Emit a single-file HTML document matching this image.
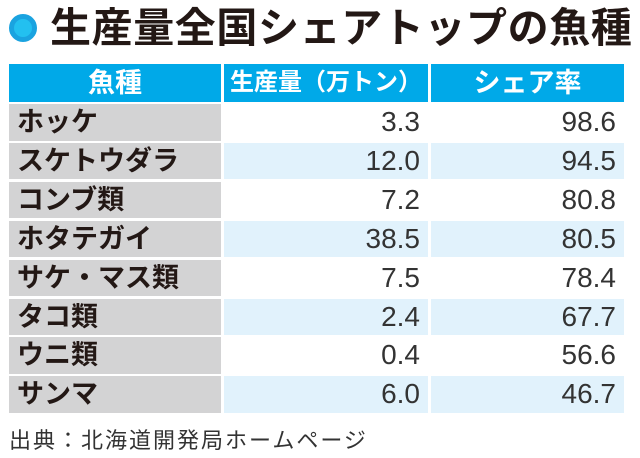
<!DOCTYPE html>
<html><head><meta charset="utf-8"><style>
body{margin:0;width:640px;height:458px;background:#fff;position:relative;overflow:hidden;font-family:"Liberation Sans","Noto Sans CJK JP",sans-serif}
.t{position:absolute;left:50px;top:0px;font-size:41px;font-weight:bold;color:#231815;letter-spacing:0.6px;line-height:56px;white-space:nowrap}
.dot{position:absolute;left:9px;top:14px;width:18px;height:18px;border:5px solid #1aa3e0;background:#23c0f0;border-radius:50%}
.c{position:absolute;height:36.5px;line-height:36.5px;white-space:nowrap;box-sizing:border-box}
.h{background:#00a9e8;color:#fff;font-weight:bold;font-size:27px;text-align:center;top:64px;height:38px;line-height:38px}
.l{background:#d3d3d4;font-weight:bold;font-size:27px;color:#231815;padding-left:8px;left:9px;width:212px}
.n{font-size:28px;color:#333;text-align:right;padding-right:8px}
.b{background:#e1f2fc}
.s{position:absolute;left:9px;top:423px;font-size:22px;letter-spacing:2px;color:#333}
</style></head><body>
<div class="dot"></div>
<div class="t">生産量全国シェアトップの魚種</div>
<div class="c h" style="left:9px;width:212px">魚種</div>
<div class="c h" style="left:224px;width:204px;font-size:24px">生産量（万トン）</div>
<div class="c h" style="left:431px;width:193px">シェア率</div>
<div id="rows"></div>
<div class="s">出典：北海道開発局ホームページ</div>
<script>
var d=[["ホッケ","3.3","98.6"],["スケトウダラ","12.0","94.5"],["コンブ類","7.2","80.8"],["ホタテガイ","38.5","80.5"],["サケ・マス類","7.5","78.4"],["タコ類","2.4","67.7"],["ウニ類","0.4","56.6"],["サンマ","6.0","46.7"]];
var h="";d.forEach(function(r,i){var y=(104+i*38.9).toFixed(1);var b=i%2?" b":"";
h+='<div class="c l" style="top:'+y+'px">'+r[0]+'</div>';
h+='<div class="c n'+b+'" style="top:'+y+'px;left:224px;width:204px">'+r[1]+'</div>';
h+='<div class="c n'+b+'" style="top:'+y+'px;left:431px;width:193px">'+r[2]+'</div>';});
document.getElementById("rows").innerHTML=h;
</script>
</body></html>
